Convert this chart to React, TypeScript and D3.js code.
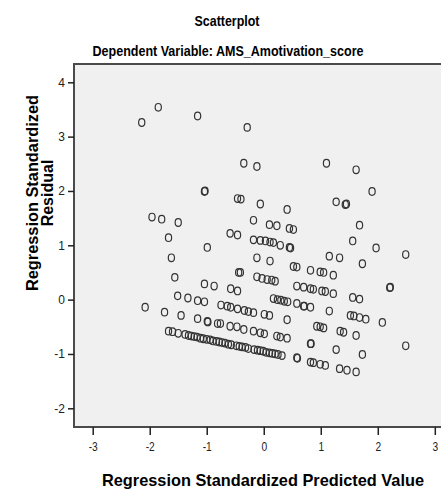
import React, { useEffect, useRef } from 'react';
import * as d3 from 'd3';

const W = 441;
const H = 498;

const xTicks = [-3, -2, -1, 0, 1, 2, 3];
const yTicks = [-2, -1, 0, 1, 2, 3, 4];

// [standardized predicted, standardized residual]
const upperPoints: [number, number][] = [
  [-2.14, 3.26], [-1.85, 3.54], [-1.16, 3.38], [-0.29, 3.17],
  [-0.35, 2.51], [-0.12, 2.45], [1.10, 2.51], [1.62, 2.39],
  [-1.04, 1.99], [-1.03, 2.0], [1.90, 1.99],
  [-0.46, 1.86], [-0.40, 1.85], [1.27, 1.80], [1.43, 1.75], [1.45, 1.76],
  [-0.06, 1.76], [0.41, 1.66],
  [-1.96, 1.52], [-1.79, 1.48], [-1.50, 1.42], [-0.18, 1.46],
  [0.10, 1.38], [0.23, 1.36], [1.68, 1.37], [0.45, 1.31], [0.52, 1.29],
  [-0.59, 1.22], [-0.46, 1.19], [-1.67, 1.14],
  [-0.18, 1.10], [-0.06, 1.09], [0.03, 1.08], [0.11, 1.06], [0.17, 1.05],
  [0.29, 1.0], [0.45, 0.96], [0.47, 0.95],
  [1.56, 1.08], [1.97, 0.95], [2.49, 0.83], [-0.99, 0.96],
];

const middlePoints: [number, number][] = [
  [-1.62, 0.77], [-0.12, 0.77], [0.11, 0.71], [1.15, 0.80], [1.33, 0.77], [1.73, 0.66],
  [0.52, 0.61], [0.58, 0.60], [0.82, 0.54], [0.99, 0.51], [1.05, 0.50], [1.22, 0.45],
  [-0.44, 0.50], [-0.41, 0.50],
  [-1.56, 0.41], [-0.12, 0.42], [-0.03, 0.39], [0.06, 0.37], [0.14, 0.36], [0.20, 0.34],
  [-1.04, 0.29], [-0.87, 0.25], [-0.58, 0.20], [-0.46, 0.16],
  [0.58, 0.25], [0.70, 0.23], [0.82, 0.20], [0.87, 0.19], [1.02, 0.16], [1.08, 0.15],
  [1.22, 0.11], [2.21, 0.22], [2.22, 0.23],
  [-1.51, 0.07], [-1.33, 0.03], [-1.16, -0.02], [-1.04, -0.04],
  [0.17, 0.02], [0.24, 0.0], [0.30, -0.01], [0.36, -0.03], [0.42, -0.04], [1.56, 0.04], [1.68, 0.01],
  [0.58, -0.07], [0.70, -0.12], [0.71, -0.12], [0.82, -0.14],
  [-0.75, -0.10], [-0.64, -0.12], [-0.58, -0.14], [-0.46, -0.17], [-0.34, -0.20],
  [-0.27, -0.22], [-0.18, -0.24], [0.01, -0.27], [0.10, -0.29],
  [1.15, -0.21], [1.52, -0.29], [1.58, -0.30], [1.68, -0.33], [1.79, -0.36], [2.08, -0.42], [0.41, -0.37],
];

const lowerPoints: [number, number][] = [
  [-2.08, -0.14], [-1.74, -0.23], [-1.45, -0.29], [-1.16, -0.35], [-0.99, -0.40], [-0.98, -0.41],
  [-0.81, -0.44], [-0.76, -0.44], [-0.59, -0.49], [-0.47, -0.50], [-0.35, -0.55], [-0.18, -0.58],
  [-0.06, -0.61], [0.01, -0.63],
  [0.93, -0.49], [0.99, -0.50], [1.05, -0.52], [1.34, -0.58], [1.40, -0.60], [1.62, -0.66], [2.49, -0.85],
  [0.23, -0.67], [0.29, -0.69], [0.41, -0.71], [0.82, -0.81], [0.83, -0.81], [1.27, -0.92], [1.73, -1.01],
  [0.58, -1.07], [0.59, -1.08], [0.82, -1.15], [0.87, -1.16], [0.99, -1.19], [1.08, -1.21],
  [1.33, -1.27], [1.46, -1.30], [1.62, -1.33],
];

// lowest band: cases at the minimum score
const floorPoints: [number, number][] = [
  [-1.67, -0.58], [-1.60, -0.59], [-1.50, -0.62], [-1.38, -0.64], [-1.32, -0.66], [-1.27, -0.67],
  [-1.22, -0.68], [-1.17, -0.69], [-1.11, -0.71], [-1.06, -0.72], [-1.0, -0.73], [-0.94, -0.74],
  [-0.89, -0.76], [-0.83, -0.77], [-0.78, -0.78], [-0.73, -0.79], [-0.68, -0.80], [-0.62, -0.82],
  [-0.57, -0.83], [-0.48, -0.85], [-0.43, -0.86], [-0.38, -0.87], [-0.32, -0.88], [-0.27, -0.90],
  [-0.17, -0.92], [-0.11, -0.93], [-0.06, -0.94], [-0.01, -0.95], [0.04, -0.97], [0.10, -0.98],
  [0.15, -0.99], [0.20, -1.0], [0.25, -1.01], [0.32, -1.03],
];

const narrow = "'Liberation Sans Narrow', 'Arial Narrow', 'Liberation Sans', Arial, sans-serif";
const wide = "'Liberation Sans', Arial, sans-serif";

export default function App() {
  const ref = useRef<SVGSVGElement>(null);

  useEffect(() => {
    const svg = d3.select(ref.current);
    svg.selectAll('*').remove();

    const frame = { left: 74, top: 64, right: 447, bottom: 427 };
    const x = d3.scaleLinear().domain([-3, 3]).range([92.7, 434.8]);
    const y = d3.scaleLinear().domain([-2, 4]).range([408.3, 82.3]);

    svg.append('rect').attr('width', W).attr('height', H).attr('fill', '#fff');

    svg
      .append('rect')
      .attr('x', frame.left)
      .attr('y', frame.top)
      .attr('width', frame.right - frame.left)
      .attr('height', frame.bottom - frame.top)
      .attr('fill', '#f0f0f0')
      .attr('stroke', '#4a4a4a')
      .attr('stroke-width', 2);

    const all = [...upperPoints, ...middlePoints, ...lowerPoints, ...floorPoints];
    svg
      .append('g')
      .selectAll('ellipse')
      .data(all)
      .enter()
      .append('ellipse')
      .attr('cx', (d) => x(d[0]))
      .attr('cy', (d) => y(d[1]))
      .attr('rx', 3.1)
      .attr('ry', 3.8)
      .attr('fill', 'none')
      .attr('stroke', '#333')
      .attr('stroke-width', 1.2);

    const fmt = (d: any) => String(d);

    const xAxis = svg
      .append('g')
      .attr('transform', `translate(0,${frame.bottom})`)
      .call(d3.axisBottom(x).tickValues(xTicks).tickSize(8).tickPadding(7).tickFormat(fmt));
    xAxis.select('.domain').remove();
    xAxis.selectAll('line').attr('stroke', '#222').attr('stroke-width', 1.5);
    xAxis
      .selectAll('text')
      .attr('font-family', narrow)
      .attr('font-size', 12)
      .attr('fill', '#222')
      .attr('transform', 'scale(0.85,1)');

    const yAxis = svg
      .append('g')
      .attr('transform', `translate(${frame.left},0)`)
      .call(d3.axisLeft(y).tickValues(yTicks).tickSize(6).tickPadding(3).tickFormat(fmt));
    yAxis.select('.domain').remove();
    yAxis.selectAll('line').attr('stroke', '#222').attr('stroke-width', 1.5);
    yAxis.selectAll('text').attr('font-family', narrow).attr('font-size', 12).attr('fill', '#222');

    svg
      .append('text')
      .attr('x', 227)
      .attr('y', 26)
      .attr('text-anchor', 'middle')
      .attr('font-family', narrow)
      .attr('font-weight', 'bold')
      .attr('font-size', 15)
      .attr('textLength', 65)
      .attr('lengthAdjust', 'spacingAndGlyphs')
      .text('Scatterplot');

    svg
      .append('text')
      .attr('x', 228)
      .attr('y', 56)
      .attr('text-anchor', 'middle')
      .attr('font-family', narrow)
      .attr('font-weight', 'bold')
      .attr('font-size', 15)
      .attr('textLength', 271)
      .attr('lengthAdjust', 'spacingAndGlyphs')
      .text('Dependent Variable: AMS_Amotivation_score');

    svg
      .append('text')
      .attr('x', 263)
      .attr('y', 486)
      .attr('text-anchor', 'middle')
      .attr('font-family', narrow)
      .attr('font-weight', 'bold')
      .attr('font-size', 17)
      .attr('textLength', 322)
      .attr('lengthAdjust', 'spacingAndGlyphs')
      .text('Regression Standardized Predicted Value');

    const yTitle = svg
      .append('text')
      .attr('transform', 'translate(38,193) rotate(-90)')
      .attr('text-anchor', 'middle')
      .attr('font-family', wide)
      .attr('font-weight', 'bold')
      .attr('font-size', 16);
    yTitle
      .append('tspan')
      .attr('x', 0)
      .attr('y', 0)
      .attr('textLength', 196)
      .attr('lengthAdjust', 'spacingAndGlyphs')
      .text('Regression Standardized');
    yTitle.append('tspan').attr('x', 0).attr('y', 15).text('Residual');
  }, []);

  return (
    <svg
      ref={ref}
      width={W}
      height={H}
      style={{ position: 'absolute', left: 0, top: 0, display: 'block' }}
    />
  );
}
